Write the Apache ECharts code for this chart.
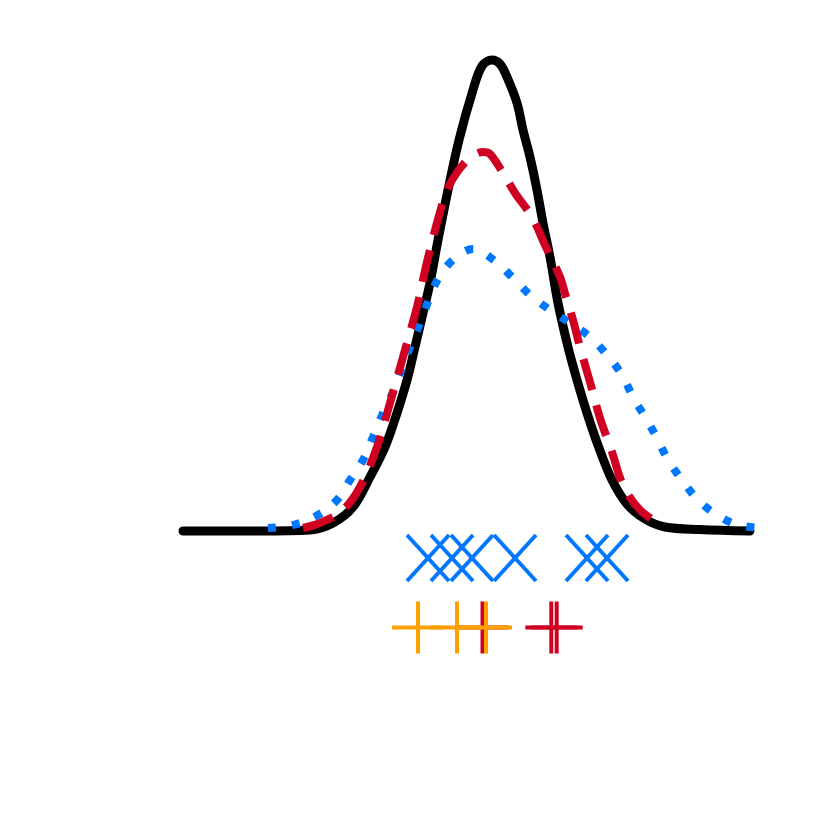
<!DOCTYPE html>
<html>
<head>
<meta charset="utf-8">
<script src="https://cdn.jsdelivr.net/npm/echarts/dist/echarts.min.js"></script>
<style>
  html, body { margin: 0; padding: 0; background: #ffffff; }
  #chart { width: 830px; height: 830px; }
</style>
</head>
<body>
<div id="chart"></div>
<script>
// density curves, [x, density]
var blackCurve = [
  [-6.16, 0], [-4.62, 0], [-3.62, 0.01], [-3.16, 0.08], [-2.76, 0.24], [-2.42, 0.54],
  [-2.12, 0.84], [-1.88, 1.18], [-1.68, 1.51], [-1.52, 1.84], [-1.36, 2.18], [-1.22, 2.48],
  [-1.06, 2.91], [-0.86, 3.41], [-0.64, 3.91], [-0.36, 4.41], [-0.18, 4.65], [0.02, 4.71],
  [0.18, 4.67], [0.32, 4.54], [0.52, 4.28], [0.64, 4.01], [0.78, 3.74], [0.92, 3.41],
  [1.04, 3.08], [1.18, 2.74], [1.34, 2.28], [1.54, 1.84], [1.72, 1.51], [1.92, 1.18],
  [2.16, 0.83], [2.42, 0.51], [2.72, 0.27], [3.08, 0.12], [3.48, 0.04], [4.18, 0.015], [5.18, 0]
];
var redCurve = [
  [-3.76, 0.03], [-3.42, 0.08], [-2.96, 0.21], [-2.62, 0.44], [-2.28, 0.84], [-2.02, 1.28],
  [-1.76, 1.74], [-1.48, 2.24], [-1.28, 2.69], [-1.02, 3.19], [-0.86, 3.43], [-0.66, 3.60],
  [-0.42, 3.73], [-0.16, 3.79], [-0.02, 3.77], [0.24, 3.58], [0.48, 3.38], [0.82, 3.14],
  [1.08, 2.86], [1.38, 2.54], [1.5, 2.34], [1.64, 2.11], [1.78, 1.84], [1.98, 1.49],
  [2.18, 1.13], [2.42, 0.79], [2.64, 0.46], [2.98, 0.21], [3.44, 0.05]
];
var blueCurve = [
  [-4.46, 0.03], [-3.96, 0.06], [-3.46, 0.16], [-3.08, 0.31], [-2.82, 0.51], [-2.56, 0.71],
  [-2.36, 0.94], [-2.16, 1.18], [-1.96, 1.39], [-1.62, 1.84], [-1.42, 2.08], [-1.26, 2.29],
  [-1.06, 2.52], [-0.76, 2.71], [-0.36, 2.82], [0.08, 2.70], [0.44, 2.53], [0.78, 2.36],
  [1.18, 2.21], [1.58, 2.08], [1.98, 1.94], [2.32, 1.76], [2.62, 1.56], [2.84, 1.34],
  [3.08, 1.14], [3.32, 0.93], [3.54, 0.71], [3.82, 0.51], [4.14, 0.31], [4.52, 0.16],
  [4.94, 0.06], [5.48, 0.03]
];

// sample points shown under the curves
var bluePoints = [-1.26, -0.78, -0.38, 0.48, 1.92, 2.32];
var orangePoints = [-1.46, -0.68, -0.1];
var redPoints = [-0.17, 1.206, 1.314];
var rowBlue = -0.27;
var rowPlus = -0.965;

var BLACK = '#000000';
var RED = '#CF0022';
var BLUE = '#0077FF';
var ORANGE = '#FFA000';

function crossItem(color) {
  return function (params, api) {
    var p = api.coord([api.value(0), api.value(1)]);
    var h = 21, v = 23;
    var st = { stroke: color, lineWidth: 4 };
    return {
      type: 'group',
      children: [
        { type: 'line', shape: { x1: p[0] - h, y1: p[1] - v, x2: p[0] + h, y2: p[1] + v }, style: st },
        { type: 'line', shape: { x1: p[0] - h, y1: p[1] + v, x2: p[0] + h, y2: p[1] - v }, style: st }
      ]
    };
  };
}

function plusItem(color) {
  return function (params, api) {
    var p = api.coord([api.value(0), api.value(1)]);
    var h = 26;
    var st = { stroke: color, lineWidth: 4 };
    return {
      type: 'group',
      children: [
        { type: 'line', shape: { x1: p[0] - h, y1: p[1], x2: p[0] + h, y2: p[1] }, style: st },
        { type: 'line', shape: { x1: p[0], y1: p[1] - h, x2: p[0], y2: p[1] + h }, style: st }
      ]
    };
  };
}

var myChart = echarts.init(document.getElementById('chart'));
var option = {
  animation: false,
  backgroundColor: '#ffffff',
  grid: { left: 91, right: 39, top: 31, bottom: 99 },
  xAxis: { type: 'value', min: -8, max: 6, show: false },
  yAxis: { type: 'value', min: -2, max: 5, show: false },
  series: [
    {
      type: 'line',
      data: blackCurve,
      smooth: 0.35,
      showSymbol: false,
      lineStyle: { color: BLACK, width: 9, cap: 'round', join: 'round' }
    },
    {
      type: 'line',
      data: blueCurve,
      smooth: 0.35,
      showSymbol: false,
      lineStyle: { color: BLUE, width: 8, type: [8, 16], cap: 'butt' }
    },
    {
      type: 'line',
      data: redCurve,
      smooth: 0.35,
      showSymbol: false,
      lineStyle: { color: RED, width: 8, type: [32, 16], cap: 'butt' }
    },
    {
      type: 'custom',
      renderItem: crossItem(BLUE),
      data: bluePoints.map(function (x) { return [x, rowBlue]; })
    },
    // red first, orange drawn over it
    {
      type: 'custom',
      renderItem: plusItem(RED),
      data: redPoints.map(function (x) { return [x, rowPlus]; })
    },
    {
      type: 'custom',
      renderItem: plusItem(ORANGE),
      data: orangePoints.map(function (x) { return [x, rowPlus]; })
    }
  ]
};
option && myChart.setOption(option);
</script>
</body>
</html>
